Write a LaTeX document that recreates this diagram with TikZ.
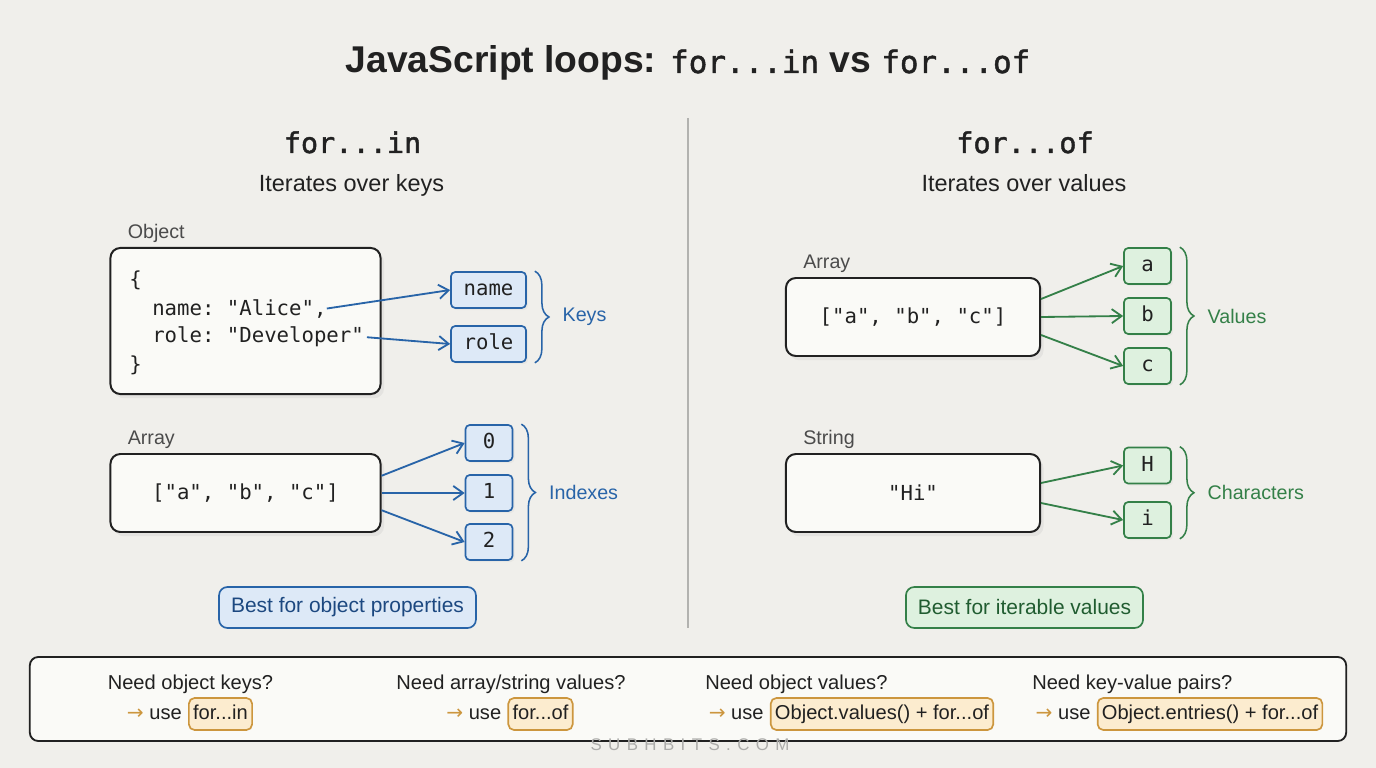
\documentclass[tikz,border=0pt]{standalone}
\usepackage{fontspec}
\setmainfont{Liberation Sans}
\setmonofont{DejaVu Sans Mono}
\newfontfamily\headmono[FakeBold=1.5]{DejaVu Sans Mono}
\newfontfamily\arrfont{DejaVu Sans}
\newfontfamily\wmfont[LetterSpace=38]{Liberation Sans}
\usepackage{xcolor}
\usepackage{tikz}
\usetikzlibrary{arrows.meta,positioning,shadows,decorations.pathreplacing}
\definecolor{paper}{RGB}{240,239,235}
\definecolor{card}{RGB}{250,250,247}
\definecolor{ink}{RGB}{33,33,33}
\definecolor{graytext}{RGB}{75,75,75}
\definecolor{divgray}{RGB}{178,178,175}
\definecolor{steel}{RGB}{40,100,168}
\definecolor{navy}{RGB}{28,72,128}
\definecolor{softblue}{RGB}{221,233,247}
\definecolor{leaf}{RGB}{52,128,72}
\definecolor{forest}{RGB}{32,92,48}
\definecolor{softgreen}{RGB}{222,241,223}
\definecolor{amber}{RGB}{204,150,62}
\definecolor{softamber}{RGB}{252,236,207}
\definecolor{wmgray}{RGB}{172,172,170}
\newcommand\titlesize{\fontsize{26.5}{30}\selectfont}
\newcommand\codesize{\fontsize{14.7}{18}\selectfont}
\newcommand\lblsize{\fontsize{14}{17}\selectfont}
\newcommand\asksize{\fontsize{14.3}{17}\selectfont}
\newcommand\notesize{\fontsize{14.9}{18}\selectfont}
\tikzset{
  panel/.style={rectangle,rounded corners=7pt,draw=ink,line width=1.4pt,fill=card,
              drop shadow={shadow xshift=2.5pt,shadow yshift=-3pt,opacity=0.10},
              font=\codesize\ttfamily,text=ink},
  codeln/.style={inner sep=0pt,anchor=base west,font=\codesize\ttfamily,text=ink},
  lbl/.style={inner sep=0pt,font=\lblsize,text=graytext},
  headf/.style={inner sep=0pt,anchor=base,font=\fontsize{20.3}{24}\selectfont\headmono,text=ink},
  subf/.style={inner sep=0pt,anchor=base,font=\fontsize{16.7}{20}\selectfont,text=ink},
  keyb/.style={rectangle,rounded corners=3pt,draw=steel,line width=1.2pt,fill=softblue,
              minimum width=1.175cm,minimum height=0.9cm,inner sep=2pt,text height=11pt,text depth=3pt,
              font=\codesize\ttfamily,text=ink,
              drop shadow={shadow xshift=1.5pt,shadow yshift=-1.5pt,opacity=0.07}},
  valb/.style={keyb,draw=leaf,fill=softgreen},
  bnote/.style={rectangle,rounded corners=6pt,draw=steel,line width=1.2pt,fill=softblue,
              minimum height=1.025cm,inner xsep=0.3cm,font=\notesize,text=navy},
  gnote/.style={bnote,draw=leaf,fill=softgreen,text=forest},
  flowb/.style={-{Straight Barb[length=7pt,width=10pt]},line width=1.3pt,draw=steel},
  flowg/.style={flowb,draw=leaf},
  brc/.style={decorate,decoration={brace,amplitude=10pt},line width=1.1pt},
  guide/.style={rectangle,rounded corners=6pt,draw=ink,line width=1.3pt,fill=card},
  ask/.style={inner sep=0pt,font=\asksize,text=ink},
  usebox/.style={rectangle,rounded corners=4pt,draw=amber,line width=1.2pt,fill=softamber,
              inner xsep=3pt,inner ysep=2pt,minimum height=0.8cm,text height=10.5pt,text depth=3pt,
              font=\asksize,text=ink},
  usetxt/.style={inner sep=0pt,font=\asksize,text=ink},
  wm/.style={inner sep=0pt,font=\wmfont\fontsize{12}{14}\selectfont,text=wmgray},
}

\begin{document}
\begin{tikzpicture}[x=0.025cm,y=-0.025cm]
  \fill[paper] (0,0) rectangle (1376,768);

  \node[anchor=base,inner sep=0pt,font=\titlesize,text=ink] (title) at (688,73)
    {{\bfseries JavaScript loops:} {\headmono\fontsize{22}{26}\selectfont for...in} {\bfseries vs} {\headmono\fontsize{22}{26}\selectfont for...of}};
  \node[headf] (hin) at (352.5,153) {for...in};
  \node[subf] (sin) at (351.5,192) {Iterates over keys};
  \node[headf] (hof) at (1025,153) {for...of};
  \node[subf] (sof) at (1024,192) {Iterates over values};
  \draw[divgray,line width=1.1pt] (688,118) -- (688,628);

  \node[panel,minimum width=6.75cm,minimum height=3.65cm] (obj) at (245.5,321) {};
  \node[lbl,above right=0.1cm and 0.45cm of obj.north west] (objt) {Object};
  \node[codeln] (ob1) at (129,287) {\{};
  \node[codeln] (ob2) at (152,315) {name: "Alice",};
  \node[codeln] (ob3) at (152,343) {role: "Developer"};
  \node[codeln] (ob4) at (129,371) {\}};
  \node[keyb,minimum width=1.875cm] (nm) at (488.5,290) {name};
  \node[keyb,minimum width=1.875cm] (rl) at (488.5,344) {role};

  \node[panel,minimum width=6.75cm,minimum height=1.95cm] (arrl) at (245.5,493) {["a", "b", "c"]};
  \node[lbl,above right=0.1cm and 0.45cm of arrl.north west] (arrlt) {Array};
  \node[keyb] (ix0) at (489,443) {0};
  \node[keyb] (ix1) at (489,493) {1};
  \node[keyb] (ix2) at (489,542) {2};
  \node[bnote] (bin) at (347.5,607.5) {Best for object properties};

  \node[panel,minimum width=6.35cm,minimum height=1.95cm] (arrr) at (913,317) {["a", "b", "c"]};
  \node[lbl,above right=0.1cm and 0.45cm of arrr.north west] (arrrt) {Array};
  \node[valb] (va) at (1147.5,266) {a};
  \node[valb] (vb) at (1147.5,316) {b};
  \node[valb] (vc) at (1147.5,366) {c};
  \node[panel,minimum width=6.35cm,minimum height=1.95cm] (str) at (913,493) {"Hi"};
  \node[lbl,above right=0.1cm and 0.45cm of str.north west] (strt) {String};
  \node[valb] (ch) at (1147.5,465.5) {H};
  \node[valb] (ci) at (1147.5,520) {i};
  \node[gnote] (bof) at (1024.5,607.5) {Best for iterable values};

  \node[guide,minimum width=32.9cm,minimum height=2.1cm] (guide) at (688,699) {};
  \node[ask,anchor=base] (q1) at (190.5,689) {Need object keys?};
  \node[ask,anchor=base] (q2) at (511,689) {Need array/string values?};
  \node[ask,anchor=base west] (q3) at (705,689) {Need object values?};
  \node[ask,anchor=base west] (q4) at (1032,689) {Need key-value pairs?};
  \node[usebox] (u1) at (220.5,714) {for...in};
  \node[usebox] (u2) at (540.5,714) {for...of};
  \node[usebox] (u3) at (882,714) {Object.values() + for...of};
  \node[usebox] (u4) at (1210,714) {Object.entries() + for...of};
  \node[usetxt,base left=0.15cm of u1] (w1) {{\arrfont\color{amber}→} use};
  \node[usetxt,base left=0.15cm of u2] (w2) {{\arrfont\color{amber}→} use};
  \node[usetxt,base left=0.15cm of u3] (w3) {{\arrfont\color{amber}→} use};
  \node[usetxt,base left=0.15cm of u4] (w4) {{\arrfont\color{amber}→} use};
  \node[wm] (wmk) at (690,745) {SUBHBITS.COM};

  \draw[flowb] (ob2.east) -- (nm.west);
  \draw[flowb] ([xshift=2pt]ob3.east) -- (rl.west);
  \draw[flowb] ([yshift=0.43cm]arrl.east) -- (ix0.west);
  \draw[flowb] (arrl.east) -- (ix1.west);
  \draw[flowb] ([yshift=-0.43cm]arrl.east) -- (ix2.west);
  \draw[flowg] ([yshift=0.45cm]arrr.east) -- (va.west);
  \draw[flowg] (arrr.east) -- (vb.west);
  \draw[flowg] ([yshift=-0.45cm]arrr.east) -- (vc.west);
  \draw[flowg] ([yshift=0.25cm]str.east) -- (ch.west);
  \draw[flowg] ([yshift=-0.25cm]str.east) -- (ci.west);
  \draw[brc,steel] ([xshift=0.2cm]nm.north east) -- ([xshift=0.2cm]rl.south east)
    node[lbl,midway,anchor=west,xshift=0.675cm,text=steel] {Keys};
  \draw[brc,steel] ([xshift=0.2cm]ix0.north east) -- ([xshift=0.2cm]ix2.south east)
    node[lbl,midway,anchor=west,xshift=0.675cm,text=steel] {Indexes};
  \draw[brc,leaf] ([xshift=0.2cm]va.north east) -- ([xshift=0.2cm]vc.south east)
    node[lbl,midway,anchor=west,xshift=0.675cm,text=leaf] {Values};
  \draw[brc,leaf] ([xshift=0.2cm]ch.north east) -- ([xshift=0.2cm]ci.south east)
    node[lbl,midway,anchor=west,xshift=0.675cm,text=leaf] {Characters};
\end{tikzpicture}
\end{document}
